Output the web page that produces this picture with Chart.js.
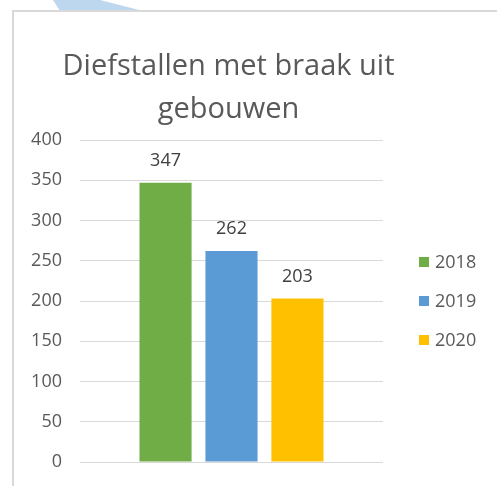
<!DOCTYPE html>
<html>
<head>
<meta charset="utf-8">
<title>Diefstallen met braak uit gebouwen</title>
<script src="https://cdn.jsdelivr.net/npm/chart.js@4.4.1/dist/chart.umd.min.js"></script>
<style>
    html, body { margin: 0; padding: 0; background: #fff; overflow: hidden; }
    body { width: 497px; height: 486px; position: relative; font-family: 'Open Sans', sans-serif; }
    .stripe {
        position: absolute; left: 0; top: 0; width: 160px; height: 12px;
        background: #bdd7ee;
        clip-path: polygon(53px 0, 100px 0, 143px 11px, 60px 11px);
    }
    .frame {
        position: absolute; left: 12px; top: 10px; width: 600px; height: 600px;
        border: 2px solid #d9d9d9; background: #fff;
    }
    #chart { position: absolute; left: 0; top: 0; }
</style>
</head>
<body>
<div class="stripe"></div>
<div class="frame"></div>
<canvas id="chart" width="497" height="486"></canvas>
<script>
// Chart data
const titleLines = ['Diefstallen met braak uit', 'gebouwen'];
const categories = [''];
const seriesNames = ['2018', '2019', '2020'];
const seriesValues = [[347], [262], [203]];
const seriesColors = ['#70ad47', '#5b9bd5', '#ffc000'];
const yTicks = [0, 50, 100, 150, 200, 250, 300, 350, 400];

const textColor = '#595959';
const fontFamily = "'Open Sans', sans-serif";

// Title drawn over the middle of the plot area
const titlePlugin = {
    id: 'excelTitle',
    afterDraw(chart) {
        const ctx = chart.ctx;
        const area = chart.chartArea;
        const cx = (area.left + area.right) / 2 - 3;
        ctx.save();
        ctx.fillStyle = textColor;
        ctx.font = `29px ${fontFamily}`;
        ctx.textAlign = 'center';
        ctx.textBaseline = 'alphabetic';
        titleLines.forEach((line, i) => {
            ctx.fillText(line, cx, 75 + i * 43);
        });
        ctx.restore();
    }
};

// Value labels above each bar
const valueLabels = {
    id: 'valueLabels',
    afterDatasetsDraw(chart) {
        const ctx = chart.ctx;
        ctx.save();
        ctx.fillStyle = '#404040';
        ctx.font = `18px ${fontFamily}`;
        ctx.textAlign = 'center';
        ctx.textBaseline = 'middle';
        chart.data.datasets.forEach((ds, i) => {
            const meta = chart.getDatasetMeta(i);
            meta.data.forEach((bar, j) => {
                ctx.fillText(ds.data[j], bar.x, bar.y - 22);
            });
        });
        ctx.restore();
    }
};

// Legend to the right of the plot, Excel style (small squares, wide gap)
const sideLegend = {
    id: 'sideLegend',
    afterDraw(chart) {
        const ctx = chart.ctx;
        const area = chart.chartArea;
        const sets = chart.data.datasets;
        const step = 39;
        const x = area.right + 36;
        const midY = (area.top + area.bottom) / 2;
        ctx.save();
        ctx.font = `18px ${fontFamily}`;
        ctx.textBaseline = 'middle';
        ctx.textAlign = 'left';
        sets.forEach((ds, i) => {
            const y = midY + (i - (sets.length - 1) / 2) * step;
            ctx.fillStyle = ds.backgroundColor;
            ctx.fillRect(x, y - 5, 10, 10);
            ctx.fillStyle = textColor;
            ctx.fillText(ds.label, x + 16, y + 1);
        });
        ctx.restore();
    }
};

const ctx = document.getElementById('chart').getContext('2d');
new Chart(ctx, {
    type: 'bar',
    data: {
        labels: categories,
        datasets: seriesNames.map((name, i) => ({
            label: name,
            data: seriesValues[i],
            backgroundColor: seriesColors[i],
            borderWidth: 0,
            categoryPercentage: 0.653,
            barPercentage: 0.79
        }))
    },
    options: {
        responsive: false,
        animation: false,
        layout: {
            padding: { left: 20, right: 114, top: 140, bottom: 24 }
        },
        plugins: {
            title: { display: false },
            tooltip: { enabled: false },
            legend: { display: false }
        },
        scales: {
            x: {
                display: false
            },
            y: {
                min: 0,
                max: 400,
                afterBuildTicks(scale) {
                    scale.ticks = yTicks.map(v => ({ value: v }));
                },
                afterFit(scale) {
                    scale.width = 60;
                    scale.paddingTop = 0;
                    scale.paddingBottom = 0;
                },
                border: { display: false },
                grid: { color: '#d9d9d9', lineWidth: 1, drawTicks: false },
                ticks: {
                    color: textColor,
                    font: { family: fontFamily, size: 18 },
                    padding: 18
                }
            }
        }
    },
    plugins: [titlePlugin, valueLabels, sideLegend]
});
</script>
</body>
</html>
